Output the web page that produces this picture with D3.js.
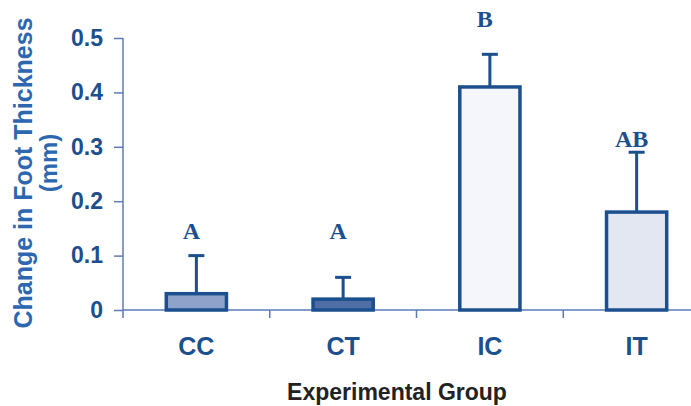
<!DOCTYPE html>
<html>
<head>
<meta charset="utf-8">
<script src="https://cdn.jsdelivr.net/npm/d3@7"></script>
<style>
  body { margin: 0; background: #fff; }
  svg { display: block; }
</style>
</head>
<body>
<div id="chart"></div>
<script>
var groups = ["CC", "CT", "IC", "IT"],
    means = [0.03, 0.02, 0.41, 0.18],
    errors = [0.07, 0.04, 0.06, 0.11],
    letters = ["A", "A", "B", "AB"],
    letterAt = [0.13, 0.13, 0.52, 0.30],
    fills = ["#8fa2c9", "#4f6ea6", "#f5f6fb", "#e3e7f2"],
    yTicks = [0, 0.1, 0.2, 0.3, 0.4, 0.5];

var width = 691, height = 406;

var svg = d3.select("#chart").append("svg")
    .attr("width", width)
    .attr("height", height);

var x = d3.scaleBand()
    .domain(groups)
    .range([123, 710])
    .paddingInner(0.59)
    .paddingOuter(0.295);

var y = d3.scaleLinear()
    .domain([0, 0.5])
    .range([310, 38]);

var navy = "#1b4f8e",
    axisCol = "#5b7bb6";

// y axis
var yAxis = svg.append("g")
    .attr("transform", "translate(123,0)")
    .call(d3.axisLeft(y).tickValues(yTicks).tickSize(9).tickPadding(11)
      .tickFormat(function(d) { return d === 0 ? "0" : d3.format(".1f")(d); }));
yAxis.select(".domain").remove();
yAxis.selectAll("line").attr("stroke", axisCol).attr("stroke-width", 1.5);
yAxis.selectAll("text")
    .attr("fill", navy)
    .style("font", "bold 23px 'Liberation Sans', Arial, sans-serif");

svg.append("line")
    .attr("x1", 123).attr("x2", 123)
    .attr("y1", y(0.5)).attr("y2", y(0) + 8)
    .attr("stroke", axisCol).attr("stroke-width", 1.5);

// x axis line + ticks at band boundaries
svg.append("line")
    .attr("x1", 123).attr("x2", width)
    .attr("y1", y(0)).attr("y2", y(0))
    .attr("stroke", axisCol).attr("stroke-width", 1.5);

svg.selectAll(".xtick")
    .data(groups.slice(1))
    .enter().append("line")
    .attr("class", "xtick")
    .attr("x1", function(d) { return x(d) - (x.step() - x.bandwidth()) / 2; })
    .attr("x2", function(d) { return x(d) - (x.step() - x.bandwidth()) / 2; })
    .attr("y1", y(0)).attr("y2", y(0) + 8)
    .attr("stroke", axisCol).attr("stroke-width", 1.5);

svg.selectAll(".xlabel")
    .data(groups)
    .enter().append("text")
    .attr("class", "xlabel")
    .attr("x", function(d) { return x(d) + x.bandwidth() / 2; })
    .attr("y", 355)
    .attr("text-anchor", "middle")
    .attr("fill", navy)
    .style("font", "bold 25px 'Liberation Sans', Arial, sans-serif")
    .text(function(d) { return d; });

// error bars (drawn first so bar covers the stem)
var err = svg.selectAll(".err")
    .data(groups)
    .enter().append("g")
    .attr("class", "err");

err.append("line")
    .attr("x1", function(d) { return x(d) + x.bandwidth() / 2; })
    .attr("x2", function(d) { return x(d) + x.bandwidth() / 2; })
    .attr("y1", function(d, i) { return y(means[i]); })
    .attr("y2", function(d, i) { return y(means[i] + errors[i]); })
    .attr("stroke", navy).attr("stroke-width", 3);

err.append("line")
    .attr("x1", function(d) { return x(d) + x.bandwidth() / 2 - 8; })
    .attr("x2", function(d) { return x(d) + x.bandwidth() / 2 + 8; })
    .attr("y1", function(d, i) { return y(means[i] + errors[i]); })
    .attr("y2", function(d, i) { return y(means[i] + errors[i]); })
    .attr("stroke", navy).attr("stroke-width", 3);

// bars
svg.selectAll(".bar")
    .data(groups)
    .enter().append("rect")
    .attr("class", "bar")
    .attr("x", function(d) { return x(d); })
    .attr("y", function(d, i) { return y(means[i]); })
    .attr("width", x.bandwidth())
    .attr("height", function(d, i) { return y(0) - y(means[i]); })
    .attr("fill", function(d, i) { return fills[i]; })
    .attr("stroke", navy)
    .attr("stroke-width", 3.5);

// significance letters
svg.selectAll(".letter")
    .data(letters)
    .enter().append("text")
    .attr("class", "letter")
    .attr("x", function(d, i) { return x(groups[i]) + x.bandwidth() / 2 - 5; })
    .attr("y", function(d, i) { return y(letterAt[i]); })
    .attr("text-anchor", "middle")
    .attr("fill", navy)
    .style("font", "bold 24px 'Liberation Serif', 'Times New Roman', serif")
    .text(function(d) { return d; });

// axis titles
svg.append("text")
    .attr("transform", "translate(32,173) rotate(-90)")
    .attr("text-anchor", "middle")
    .attr("fill", "#2c67b0")
    .style("font", "bold 25px 'Liberation Sans', Arial, sans-serif")
    .text("Change in Foot Thickness");

svg.append("text")
    .attr("transform", "translate(57,163) rotate(-90)")
    .attr("text-anchor", "middle")
    .attr("fill", "#2c67b0")
    .style("font", "bold 24px 'Liberation Sans', Arial, sans-serif")
    .text("(mm)");

svg.append("text")
    .attr("x", 397)
    .attr("y", 400)
    .attr("text-anchor", "middle")
    .attr("fill", "#222")
    .style("font", "bold 23px 'Liberation Sans', Arial, sans-serif")
    .text("Experimental Group");
</script>
</body>
</html>
